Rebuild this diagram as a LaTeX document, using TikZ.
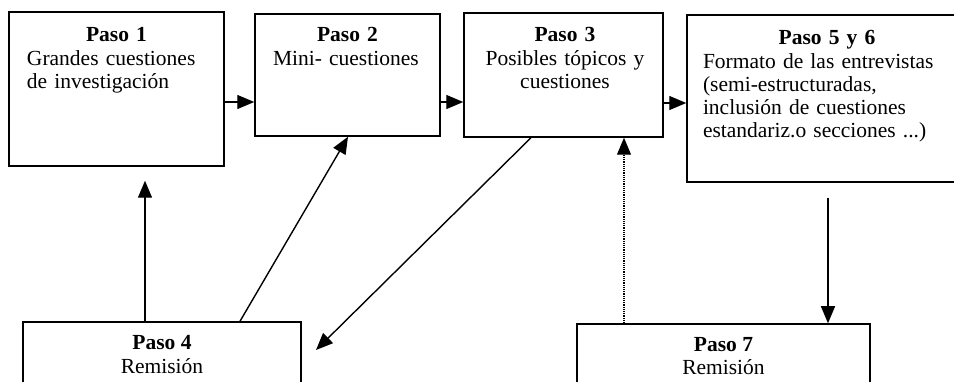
\documentclass[tikz,border=0pt]{standalone}
\usepackage{fontspec}
\setmainfont{Liberation Serif}
\usetikzlibrary{arrows.meta}

\tikzset{
  caja/.style={draw, line width=1.5pt, inner sep=0pt},
  texto/.style={inner sep=0pt, anchor=north, font=\fontsize{21.5}{23.2}\selectfont},
  flecha/.style={line width=1.4pt, -{Triangle[length=17pt,width=14pt]}},
}

\begin{document}
\begin{tikzpicture}[x=1pt,y=-1pt]
  \useasboundingbox (0,0) rectangle (954,382);
  \clip (0,0) rectangle (954,382);
  % cajas
  \node[caja, minimum width=215pt, minimum height=154pt] (p1) at (116.5,89) {};
  \node[caja, minimum width=185pt, minimum height=122pt] (p2) at (347.5,75) {};
  \node[caja, minimum width=199pt, minimum height=124pt] (p3) at (563.5,75) {};
  \node[caja, minimum width=280pt, minimum height=167pt] (p56) at (827,98.5) {};
  \node[caja, minimum width=278pt, minimum height=98pt] (p4) at (162,371) {};
  \node[caja, minimum width=293pt, minimum height=96pt] (p7) at (723.5,372) {};
  % textos
  \node[texto, text width=179pt] (t1) at (116.5,27.5)
    {\centering\textbf{Paso 1}\par\raggedright Grandes cuestiones\\de investigación};
  \node[texto, text width=149pt] (t2) at (347.5,27.5)
    {\centering\textbf{Paso 2}\par\raggedright Mini- cuestiones};
  \node[texto, text width=190pt, align=center] (t3) at (565,27.5)
    {\textbf{Paso 3}\\Posibles tópicos y\\cuestiones};
  \node[texto, text width=248pt] (t56) at (827,30.5)
    {\centering\textbf{Paso 5 y 6}\par\raggedright Formato de las entrevistas\\(semi-estructuradas,\\inclusión de cuestiones\\estandariz.o secciones ...)};
  \node[texto, align=center] (t4) at (162,335.5) {\textbf{Paso 4}\\Remisión};
  \node[texto, align=center] (t7) at (723.5,337.5) {\textbf{Paso 7}\\Remisión};
  % flechas
  \draw[flecha] (p1.east |- 0,102) -- (p2.west |- 0,102);
  \draw[flecha] (p2.east |- 0,102) -- (p3.west |- 0,102);
  \draw[flecha] (p3.east |- 0,103) -- (p56.west |- 0,103);
  \draw[flecha, shorten >=14pt] (p4.north -| 145,0) -- (p1.south -| 145,0);
  \draw[flecha] (p4.north -| 240,0) -- (p2.south -| 348,0);
  \coordinate (f4) at (316,350);
  \draw[flecha] (p3.south -| 531,0) -- (f4);
  \draw[flecha, line width=1.2pt, densely dotted] (p7.north -| 624,0) -- (p3.south -| 624,0);
  \draw[flecha, shorten <=15pt] (p56.south -| 828,0) -- (p7.north -| 828,0);
\end{tikzpicture}
\end{document}
